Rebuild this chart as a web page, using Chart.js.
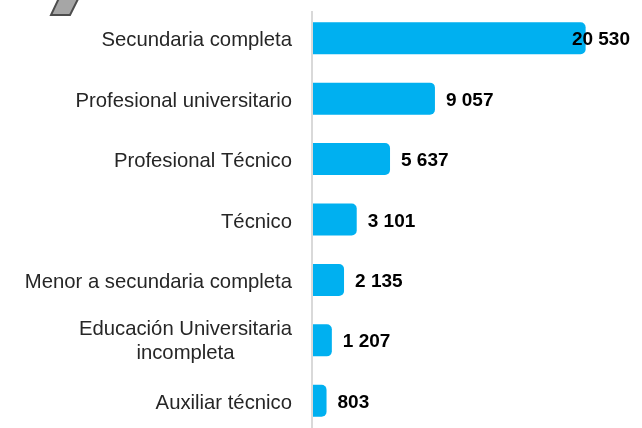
<!DOCTYPE html>
<html>
<head>
<meta charset="utf-8">
<script src="https://cdn.jsdelivr.net/npm/chart.js@4.4.1/dist/chart.umd.min.js"></script>
<style>
  html, body { margin: 0; padding: 0; background: #ffffff; overflow: hidden; }
  #wrap { position: relative; width: 642px; height: 428px; overflow: hidden; }
  #box { position: absolute; left: 0; top: 0; width: 642px; height: 431px; }
</style>
</head>
<body>
<div id="wrap"><div id="box"><canvas id="c"></canvas></div></div>
<script>
// ---- data ----
const categories = [
  "Secundaria completa",
  "Profesional universitario",
  "Profesional Técnico",
  "Técnico",
  "Menor a secundaria completa",
  ["Educación Universitaria", "incompleta"],
  "Auxiliar técnico"
];
const values = [20530, 9057, 5637, 3101, 2135, 1207, 803];
const axisMin = -228;
const axisMax = 24000;

function fmt(v) {
  return String(v).replace(/\B(?=(\d{3})+(?!\d))/g, " ");
}

const decorPlugin = {
  id: "decor",
  beforeDraw(chart) {
    const ctx = chart.ctx;
    ctx.save();
    ctx.beginPath();
    ctx.moveTo(51, 15);
    ctx.lineTo(70, 15);
    ctx.lineTo(79.5, -4);
    ctx.lineTo(60, -4);
    ctx.closePath();
    ctx.fillStyle = "#a6a6a6";
    ctx.fill();
    ctx.lineWidth = 2;
    ctx.strokeStyle = "#4d4d4d";
    ctx.stroke();
    ctx.restore();
  },
  beforeDatasetsDraw(chart) {
    const ctx = chart.ctx;
    const a = chart.chartArea;
    ctx.save();
    ctx.fillStyle = "#d9d9d9";
    ctx.fillRect(a.left - 2, 11, 2, chart.height);
    ctx.restore();
  },
  afterDraw(chart) {
    const ctx = chart.ctx;
    const a = chart.chartArea;
    const yScale = chart.scales.y;
    ctx.save();
    // category labels
    ctx.font = '20.3px "Liberation Sans", Arial, sans-serif';
    ctx.fillStyle = "#262626";
    ctx.textAlign = "center";
    ctx.textBaseline = "alphabetic";
    const right = a.left - 21;
    categories.forEach((lab, i) => {
      const lines = Array.isArray(lab) ? lab : [lab];
      const cy = yScale.getPixelForValue(i);
      let maxW = 0;
      lines.forEach(l => { maxW = Math.max(maxW, ctx.measureText(l).width); });
      const lh = 23.3;
      const off = lines.length > 1 ? 6.5 : 8;
      lines.forEach((l, j) => {
        const y = cy + off + (j - (lines.length - 1) / 2) * lh;
        ctx.fillText(l, right - maxW / 2, y);
      });
    });
    // value labels
    ctx.font = 'bold 19px "Liberation Sans", Arial, sans-serif';
    ctx.fillStyle = "#000000";
    ctx.textAlign = "left";
    const meta = chart.getDatasetMeta(0);
    meta.data.forEach((bar, i) => {
      const txt = fmt(values[i]);
      const w = ctx.measureText(txt).width;
      const x = Math.min(bar.x + 11, chart.width - 12 - w);
      ctx.fillText(txt, x, bar.y + 7);
    });
    ctx.restore();
  }
};

new Chart(document.getElementById("c"), {
  type: "bar",
  data: {
    labels: categories,
    datasets: [{
      data: values,
      base: axisMin,
      backgroundColor: "#00b0f0",
      borderWidth: 0,
      borderRadius: 5,
      borderSkipped: "start",
      barPercentage: 0.53,
      categoryPercentage: 1
    }]
  },
  options: {
    indexAxis: "y",
    responsive: true,
    maintainAspectRatio: false,
    animation: false,
    devicePixelRatio: 1,
    layout: { padding: { left: 313, right: 10.8, top: 8, bottom: 0 } },
    scales: {
      x: { display: false, min: axisMin, max: axisMax, grid: { display: false } },
      y: { display: false, grid: { display: false } }
    },
    plugins: {
      legend: { display: false },
      tooltip: { enabled: false }
    }
  },
  plugins: [decorPlugin]
});
</script>
</body>
</html>
